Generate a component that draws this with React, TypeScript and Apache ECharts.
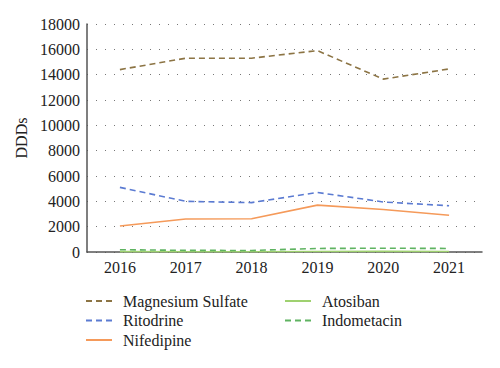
import React, { useEffect, useRef } from "react";
import * as echarts from "echarts";

const years = ["2016", "2017", "2018", "2019", "2020", "2021"];
const magnesiumSulfate = [14400, 15300, 15300, 15900, 13650, 14450];
const ritodrine = [5100, 4000, 3900, 4700, 3950, 3650];
const nifedipine = [2050, 2600, 2620, 3700, 3350, 2900];
const atosiban = [30, 20, 20, 40, 50, 40];
const indometacin = [180, 130, 120, 280, 300, 280];

const FONT = "Liberation Serif";

export default function App() {
  const ref = useRef<HTMLDivElement>(null);
  useEffect(() => {
    if (!ref.current) return;
    document.body.style.margin = "0";
    const chart = echarts.init(ref.current, undefined, { renderer: "svg" });
    const mk = (name: string, data: number[], color: string, type: string) => ({
      name,
      type: "line",
      data,
      symbol: "none",
      lineStyle: { color, width: 1.6, type: type === "dashed" ? [6, 4] : "solid" },
      itemStyle: { color },
    });
    const legendBase = {
      orient: "vertical",
      top: 288,
      itemWidth: 26,
      itemHeight: 14,
      itemGap: 3.5,
      itemStyle: { opacity: 0 },
      textStyle: { fontFamily: FONT, fontSize: 16, color: "#222", padding: [0, 0, 0, 6] },
    };
    chart.setOption({
      animation: false,
      grid: { left: 87, right: 18, top: 24, bottom: 116 },
      legend: [
        { ...legendBase, left: 80, data: ["Magnesium Sulfate", "Ritodrine", "Nifedipine"] },
        { ...legendBase, left: 279, data: ["Atosiban", "Indometacin"] },
      ],
      xAxis: {
        type: "category",
        data: years,
        boundaryGap: true,
        axisLine: { lineStyle: { color: "#555", width: 1.5 } },
        axisTick: { show: false },
        axisLabel: {
          interval: 0,
          fontFamily: FONT,
          fontSize: 16,
          color: "#222",
          margin: 7,
        },
      },
      yAxis: {
        type: "value",
        min: 0,
        max: 18000,
        interval: 2000,
        name: "DDDs",
        nameLocation: "middle",
        nameGap: 51,
        nameTextStyle: { fontFamily: FONT, fontSize: 16, color: "#222" },
        axisLine: { show: true, lineStyle: { color: "#555", width: 1.5 } },
        axisTick: { show: false },
        axisLabel: {
          fontFamily: FONT,
          fontSize: 16,
          color: "#222",
          margin: 7,
          formatter: (v: number) => String(v),
        },
        splitLine: { lineStyle: { color: "#777", type: [1, 8], width: 1 } },
      },
      series: [
        mk("Magnesium Sulfate", magnesiumSulfate, "#8c7444", "dashed"),
        mk("Ritodrine", ritodrine, "#5b7bd2", "dashed"),
        mk("Nifedipine", nifedipine, "#f59a5a", "solid"),
        mk("Atosiban", atosiban, "#9fd170", "solid"),
        mk("Indometacin", indometacin, "#5fb361", "dashed"),
      ],
    });
    return () => chart.dispose();
  }, []);
  return <div ref={ref} style={{ width: 500, height: 368 }} />;
}
